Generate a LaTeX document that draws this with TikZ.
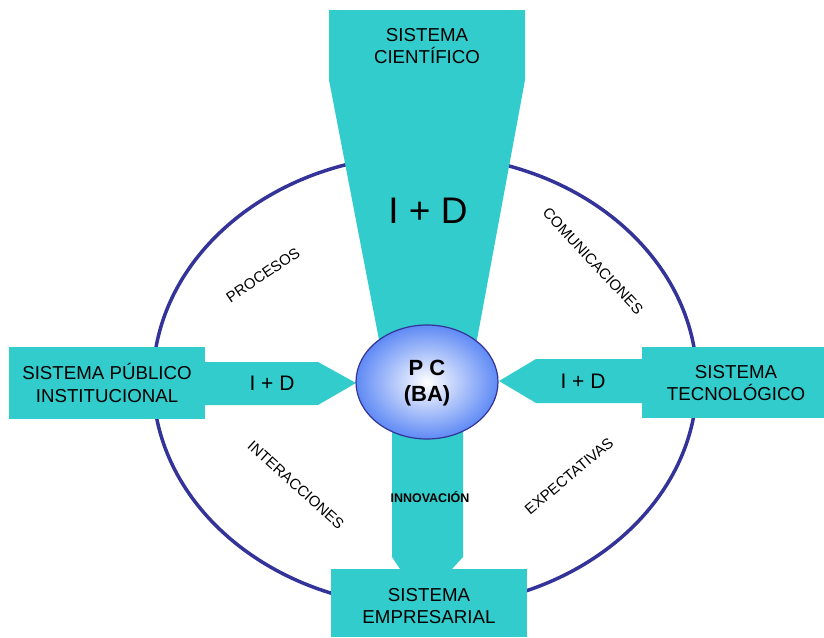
\documentclass[tikz,border=0pt]{standalone}
\usepackage{fontspec}
\setmainfont{Liberation Sans}
\usetikzlibrary{shapes.geometric}
\definecolor{teal1}{HTML}{33CCCC}
\definecolor{ringblue}{HTML}{333399}
\definecolor{ballblue}{HTML}{5F8AF5}
\tikzset{
  shapefill/.style={fill=teal1, draw=none},
  boxtext/.style={align=center, font=\fontsize{18.7}{22.5}\selectfont, inner sep=0pt},
  arrowtext/.style={font=\fontsize{21}{24}\selectfont, inner sep=0pt},
  ringlabel/.style={font=\fontsize{15}{16}\selectfont, inner sep=0pt},
}
\begin{document}
\begin{tikzpicture}[x=1pt,y=-1pt]
\useasboundingbox (0,0) rectangle (824,637);
% outer ring
\draw[ringblue, line width=3.5pt] (425,381) ellipse [x radius=272, y radius=226];
% top funnel
\fill[teal1] (329,10) -- (525,10) -- (525,80) -- (476,345) -- (380,345) -- (329,80) -- cycle;
% left box and arrow
\fill[teal1] (200,362) -- (318,362) -- (356,383) -- (318,405) -- (200,405) -- cycle;
\fill[teal1] (9,347) rectangle (205,419);
% right box and arrow
\fill[teal1] (646,359) -- (536,359) -- (499,381) -- (536,403) -- (646,403) -- cycle;
\fill[teal1] (642,347) rectangle (824,418);
% bottom shaft and box
\fill[teal1] (392,420) -- (463,420) -- (463,557) -- (452,569) -- (400,569) -- (392,557) -- cycle;
\fill[teal1] (331,569) rectangle (527,637);
% center ball
\node[ellipse, minimum width=142pt, minimum height=114pt, draw=ringblue, line width=1.2pt,
      inner color=white, outer color=ballblue] (pc) at (427,382) {};
\node[align=center, font=\bfseries\fontsize{22}{26}\selectfont, inner sep=0pt] (pctext) at (427,383) {P C\\(BA)};
% texts
\node[boxtext] (cient) at (427,46) {SISTEMA\\CIENTÍFICO};
\node[font=\fontsize{37}{40}\selectfont, inner sep=0pt] (idtop) at (428,211) {I + D};
\node[boxtext] (publ) at (107,383) {SISTEMA PÚBLICO\\INSTITUCIONAL};
\node[arrowtext] (idleft) at (272,383) {I + D};
\node[boxtext] (tecn) at (736,383) {SISTEMA\\TECNOLÓGICO};
\node[arrowtext] (idright) at (583,381) {I + D};
\node[font=\bfseries\fontsize{12.5}{14}\selectfont, inner sep=0pt] (innov) at (430,497) {INNOVACIÓN};
\node[boxtext] (empr) at (429,606) {SISTEMA\\EMPRESARIAL};
\node[ringlabel, rotate=34] (proc) at (263,275) {PROCESOS};
\node[ringlabel, rotate=-47] (comu) at (593,261) {COMUNICACIONES};
\node[ringlabel, rotate=-42] (inter) at (296,485) {INTERACCIONES};
\node[ringlabel, rotate=40] (expe) at (569,476) {EXPECTATIVAS};
\end{tikzpicture}
\end{document}
